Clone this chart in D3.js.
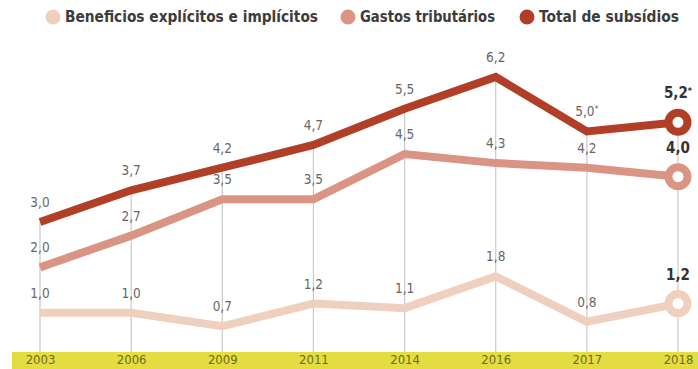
<!DOCTYPE html>
<html>
<head>
<meta charset="utf-8">
<script src="https://cdn.jsdelivr.net/npm/d3@7"></script>
<style>
  body { margin: 0; background: #fff; }
  svg { display: block; }
  text { font-family: "DejaVu Sans Condensed", "Roboto", sans-serif; }
</style>
</head>
<body>
<svg id="chart" width="698" height="369"></svg>
<script>
// data
var years = ["2003", "2006", "2009", "2011", "2014", "2016", "2017", "2018"];
var beneficios = [1.0, 1.0, 0.7, 1.2, 1.1, 1.8, 0.8, 1.2];
var gastos = [2.0, 2.7, 3.5, 3.5, 4.5, 4.3, 4.2, 4.0];
var total = [3.0, 3.7, 4.2, 4.7, 5.5, 6.2, 5.0, 5.2];
var totalNotes = ["", "", "", "", "", "", "*", "*"];
var seriesNames = ["Beneficios explícitos e implícitos", "Gastos tributários", "Total de subsídios"];
var seriesColors = ["#efcfbd", "#d99483", "#b13f28"];

var w = 698, h = 369;
var svg = d3.select("#chart");

var x = d3.scalePoint().domain(years).range([40, 678]);
var y = d3.scaleLinear().domain([0, 6.2]).range([358, 77]);

var fmt = function(v){ return d3.format(".1f")(v).replace(".", ","); };

// yellow axis band
svg.append("rect")
  .attr("x", 12).attr("y", 352)
  .attr("width", w - 12).attr("height", h - 352)
  .style("fill", "#e4dd42");

// vertical grid lines
svg.selectAll(".grid")
  .data(years)
  .enter().append("line")
    .attr("class", "grid")
    .attr("x1", function(d){ return x(d); })
    .attr("x2", function(d){ return x(d); })
    .attr("y1", function(d, i){ return y(total[i]); })
    .attr("y2", 352)
    .style("stroke", "#c9c9c9")
    .style("stroke-width", 1.2);

// year labels
var xAxis = d3.axisBottom(x).tickSize(0).tickPadding(0);
var ax = svg.append("g").attr("transform", "translate(0,355)").call(xAxis);
ax.select(".domain").remove();
ax.selectAll("text")
  .attr("dy", "0.71em")
  .style("font-size", "13px")
  .style("font-family", "\"DejaVu Sans Condensed\", sans-serif")
  .style("fill", "#6e6c1c");

var series = [beneficios, gastos, total];
var line = d3.line()
  .x(function(d, i){ return x(years[i]); })
  .y(function(d){ return y(d); });

series.forEach(function(vals, s){
  svg.append("path")
    .datum(vals)
    .attr("d", line)
    .style("fill", "none")
    .style("stroke", seriesColors[s])
    .style("stroke-width", 8)
    .style("stroke-linejoin", "miter");

  // end circle
  var last = vals.length - 1;
  svg.append("circle")
    .attr("cx", x(years[last]))
    .attr("cy", y(vals[last]))
    .attr("r", 9.5)
    .style("fill", "#fff")
    .style("stroke", seriesColors[s])
    .style("stroke-width", 8);

  // value labels
  svg.selectAll(".lbl" + s)
    .data(vals)
    .enter().append("text")
      .attr("class", "lbl" + s)
      .attr("x", function(d, i){ return x(years[i]); })
      .attr("y", function(d, i){ return y(d) - (i == last ? 24 : 15); })
      .attr("text-anchor", "middle")
      .style("font-size", function(d, i){ return i == last ? "15px" : "13.5px"; })
      .style("font-weight", function(d, i){ return i == last ? "bold" : "normal"; })
      .style("fill", function(d, i){ return i == last ? "#333" : "#666"; })
      .text(function(d){ return fmt(d); })
      .each(function(d, i){
        if (s == 2 && totalNotes[i]) {
          d3.select(this).append("tspan")
            .attr("dy", "-0.45em")
            .style("font-size", "9px")
            .text(totalNotes[i]);
        }
      });
});

// legend
var legendX = [53, 348, 527];
var legendW = [253, 135, 140];
var legend = svg.selectAll(".legend")
  .data(seriesNames)
  .enter().append("g")
    .attr("class", "legend")
    .attr("transform", function(d, i){ return "translate(" + legendX[i] + ",17)"; });
legend.append("circle")
  .attr("r", 7.5)
  .style("fill", function(d, i){ return seriesColors[i]; });
legend.append("text")
  .attr("x", 12)
  .attr("dy", "0.35em")
  .attr("textLength", function(d, i){ return legendW[i]; })
  .attr("lengthAdjust", "spacingAndGlyphs")
  .style("font-size", "15px")
  .style("font-weight", "bold")
  .style("fill", "#3c3c3c")
  .text(function(d){ return d; });
</script>
</body>
</html>
